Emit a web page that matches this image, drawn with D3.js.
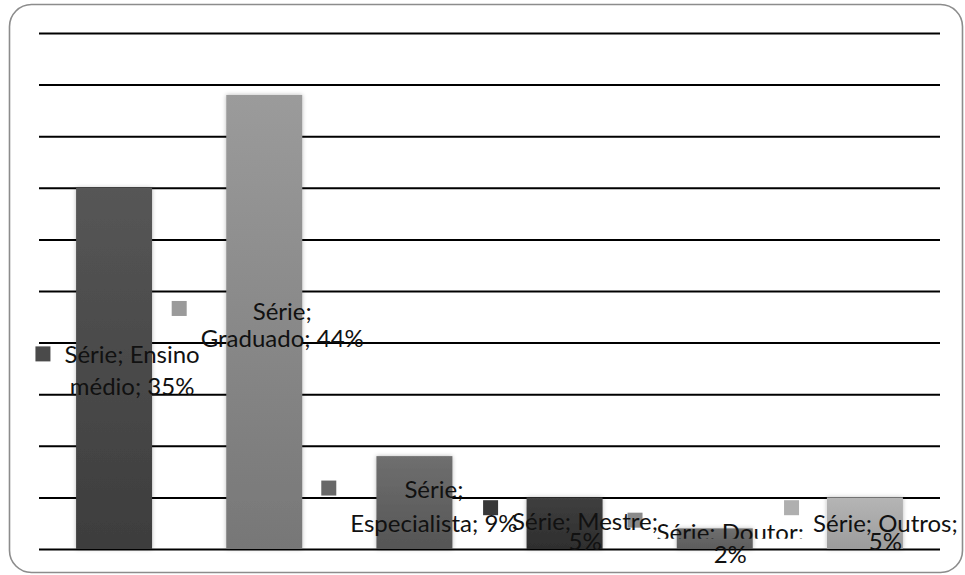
<!DOCTYPE html>
<html><head><meta charset="utf-8">
<script src="https://cdn.jsdelivr.net/npm/d3@7"></script>
<style>body{margin:0;background:#fff}svg{display:block}text{font-family:Lato,"Open Sans",sans-serif}</style>
</head><body><svg id="c" width="965" height="575"></svg>
<script>
// ---- data ----
const seriesName = "Série";
const categories = ["Ensino médio","Graduado","Especialista","Mestre","Doutor","Outros"];
const values = [35,44,9,5,2,5];
const yTicks = [0,5,10,15,20,25,30,35,40,45,50];
const line1Tokens = [2,1,1,2,2,2]; // how many words go on the first label line

// ---- style / layout ----
const barTop = ["#565656","#9b9b9b","#6f6f6f","#3f3f3f","#707070","#b5b5b5"];
const barBot = ["#3d3d3d","#777777","#555555","#2e2e2e","#5c5c5c","#9c9c9c"];
const keyCol = ["#4a4a4a","#9a9a9a","#686868","#383838","#8a8a8a","#afafaf"];
const labelDx = [18,18,19.5,20.5,15.5,20.5];
const line1Dy = [-5,-2,-5,7,2,9];
const line2Dy = [27,25,29,27,24,27];
const keyDy = [-22,-21,-22,-23,-26,-23];
const clipLine1 = [false,false,false,false,true,false];

const svg = d3.select("#c");
const defs = svg.append("defs");
const f = defs.append("filter").attr("id","sh").attr("x","-20%").attr("y","-20%").attr("width","140%").attr("height","140%");
f.append("feDropShadow").attr("dx",0).attr("dy",0).attr("stdDeviation",2.2).attr("flood-color","#000").attr("flood-opacity",0.28);

values.forEach((v,i)=>{
  const g = defs.append("linearGradient").attr("id","g"+i).attr("x1",0).attr("y1",0).attr("x2",0).attr("y2",1);
  g.append("stop").attr("offset","0%").attr("stop-color",barTop[i]);
  g.append("stop").attr("offset","100%").attr("stop-color",barBot[i]);
});

// frame
svg.append("rect").attr("x",9.5).attr("y",4.5).attr("width",953).attr("height",568)
  .attr("rx",22).attr("fill","#fff").attr("stroke","#8c8c8c").attr("stroke-width",1.6);

const x = d3.scaleBand().domain(categories).range([39,940]).paddingInner(0.494).paddingOuter(0.247);
const y = d3.scaleLinear().domain([0,50]).range([549,33]);

// gridlines
const grid = svg.append("g").attr("transform","translate(39,0)")
  .call(d3.axisLeft(y).tickValues(yTicks).tickSize(-901).tickFormat(""));
grid.select(".domain").remove();
grid.selectAll(".tick line").attr("stroke","#000").attr("stroke-width",2);

// bars
svg.append("g").selectAll("rect").data(values).join("rect")
  .attr("x",(d,i)=>x(categories[i]))
  .attr("y",d=>y(d))
  .attr("width",x.bandwidth())
  .attr("height",d=>y(0)-y(d))
  .attr("fill",(d,i)=>"url(#g"+i+")")
  .attr("filter","url(#sh)");

// labels: keys below, texts above
const keyG = svg.append("g");
const txtG = svg.append("g");
values.forEach((v,i)=>{
  const cat = categories[i];
  const words = cat.split(" ");
  words[words.length-1] += ";";
  const tokens = [seriesName+";", ...words, v+"%"];
  const l1 = tokens.slice(0,line1Tokens[i]).join(" ");
  const l2 = tokens.slice(line1Tokens[i]).join(" ");
  const cx = x(cat)+x.bandwidth()/2 + labelDx[i];
  const my = y(v/2);
  const g = txtG.append("g");
  let t1parent = g;
  if (clipLine1[i]) {
    defs.append("clipPath").attr("id","cl"+i).append("rect")
      .attr("x",0).attr("y",0).attr("width",965).attr("height",my);
    t1parent = g.append("g").attr("clip-path","url(#cl"+i+")");
  }
  const t1 = t1parent.append("text").attr("x",cx).attr("y",my+line1Dy[i])
    .attr("text-anchor","middle").attr("font-size",24).attr("fill","#111").text(l1);
  const t2 = g.append("text").attr("x",cx).attr("y",my+line2Dy[i])
    .attr("text-anchor","middle").attr("font-size",24).attr("fill","#111").text(l2);
  const w = Math.max(t1.node().getComputedTextLength(), t2.node().getComputedTextLength());
  const kx = cx - w/2 - 14 - 15;
  keyG.append("rect").attr("x",kx).attr("y",my+keyDy[i]).attr("width",15).attr("height",15)
    .attr("fill",keyCol[i]);
});
</script>
</body></html>
